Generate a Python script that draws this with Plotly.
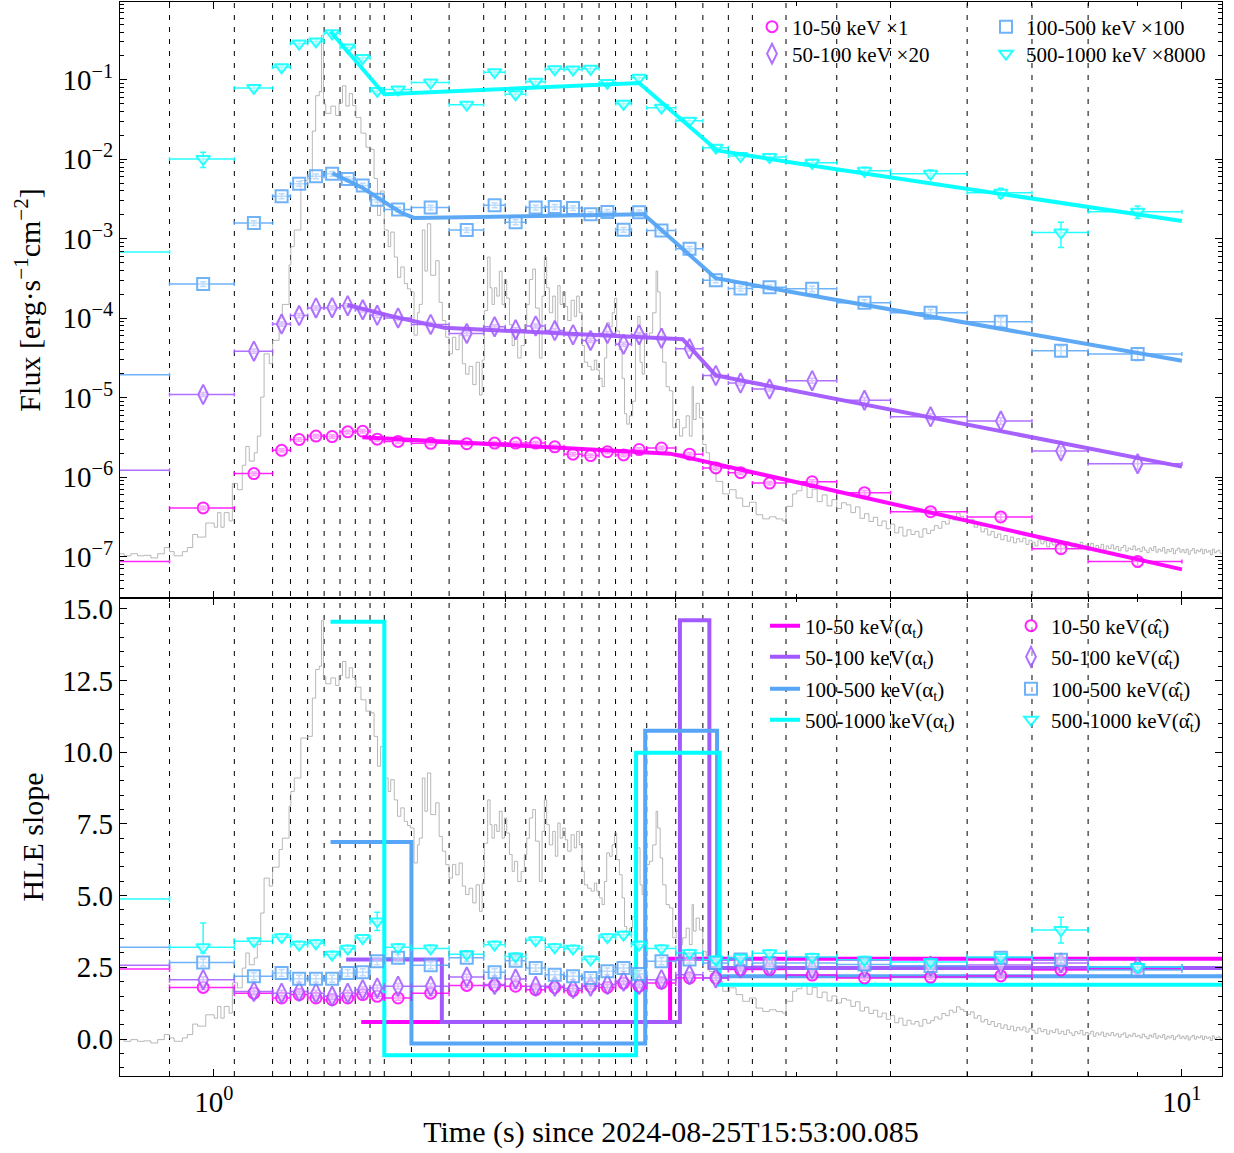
import numpy as np
import plotly.graph_objects as go

# ---------------- data ----------------
bin_edges = [0.6, 0.9, 1.05, 1.15, 1.2, 1.25, 1.3, 1.35, 1.4, 1.45, 1.5, 1.6, 1.75,
             1.9, 2.0, 2.1, 2.2, 2.3, 2.4, 2.5, 2.6, 2.7, 2.8, 3.0, 3.2, 3.4, 3.6,
             3.9, 4.4, 5.0, 6.0, 7.0, 8.0, 10.0]
dashed_edges = bin_edges[1:-1]

band_names = ["10-50 keV", "50-100 keV", "100-500 keV", "500-1000 keV"]
band_scales = ["1", "20", "100", "8000"]

flux_10_50 = [8.67e-8, 4.11e-7, 1.11e-6, 2.18e-6, 2.98e-6, 3.29e-6, 3.25e-6, 3.72e-6, 3.79e-6,
              3.01e-6, 2.82e-6, 2.67e-6, 2.64e-6, 2.69e-6, 2.69e-6, 2.69e-6, 2.41e-6, 1.95e-6,
              1.87e-6, 2.09e-6, 1.91e-6, 2.23e-6, 2.33e-6, 1.95e-6, 1.31e-6, 1.14e-6, 8.43e-7,
              8.77e-7, 6.38e-7, 3.68e-7, 3.16e-7, 1.26e-7, 8.71e-8]
flux_50_100 = [1.22e-6, 1.10e-5, 3.86e-5, 8.47e-5, 1.08e-4, 1.35e-4, 1.36e-4, 1.44e-4, 1.28e-4,
               1.09e-4, 1.01e-4, 8.38e-5, 6.43e-5, 7.83e-5, 7.18e-5, 8.02e-5, 7.01e-5, 6.22e-5,
               5.27e-5, 6.43e-5, 4.72e-5, 6.22e-5, 5.62e-5, 4.13e-5, 1.91e-5, 1.53e-5, 1.29e-5,
               1.64e-5, 9.3e-6, 5.75e-6, 5.1e-6, 2.14e-6, 1.48e-6]
flux_100_500 = [1.95e-5, 2.70e-4, 1.58e-3, 3.44e-3, 4.94e-3, 6.11e-3, 6.59e-3, 5.65e-3, 4.68e-3,
                3.11e-3, 2.33e-3, 2.47e-3, 1.29e-3, 2.64e-3, 1.62e-3, 2.47e-3, 2.52e-3, 2.44e-3,
                2.04e-3, 2.18e-3, 1.30e-3, 2.16e-3, 1.27e-3, 7.48e-4, 3.02e-4, 2.37e-4, 2.45e-4,
                2.35e-4, 1.57e-4, 1.17e-4, 9.04e-5, 3.89e-5, 3.55e-5]
flux_500_1000 = [6.84e-4, 1.01e-2, 7.93e-2, 0.144, 0.286, 0.305, 0.385, 0.256, 0.188,
                 7.26e-2, 7.59e-2, 9.25e-2, 4.88e-2, 0.125, 6.58e-2, 9.46e-2, 0.136, 0.135,
                 0.138, 9.16e-2, 4.99e-2, 0.106, 4.47e-2, 3.06e-2, 1.40e-2, 1.10e-2, 1.07e-2,
                 9.04e-3, 7.16e-3, 6.58e-3, 3.8e-3, 1.2e-3, 2.19e-3]
flux_relerr_10_50 = [0.08] + [0.05] * 26 + [0.06, 0.07, 0.08, 0.09, 0.12, 0.14]
flux_relerr_50_100 = [0.10] + [0.06] * 26 + [0.07, 0.08, 0.09, 0.10, 0.13, 0.15]
flux_relerr_100_500 = [0.12] + [0.07] * 26 + [0.08, 0.09, 0.10, 0.12, 0.15, 0.17]
flux_relerr_500_1000 = [0.15, 0.22] + [0.08] * 25 + [0.10, 0.11, 0.12, 0.14, 0.35, 0.18]

# broken power-law fits (break times, flux)
fit_t_10_50 = [1.424, 2.96, 10.0]
fit_f_10_50 = [3.18e-6, 1.98e-6, 6.92e-8]
fit_t_50_100 = [1.374, 1.548, 1.73, 3.05, 3.30, 10.0]
fit_f_50_100 = [1.47e-4, 1.02e-4, 7.59e-5, 5.45e-5, 1.91e-5, 1.36e-6]
fit_t_100_500 = [1.326, 1.424, 1.50, 1.56, 1.61, 2.78, 3.30, 4.03, 10.0]
fit_f_100_500 = [6.67e-3, 4.39e-3, 2.91e-3, 2.14e-3, 1.83e-3, 2.04e-3, 3.19e-4, 2.05e-4, 2.92e-5]
fit_t_500_1000 = [1.32, 1.50, 2.75, 3.31, 4.03, 10.0]
fit_f_500_1000 = [0.407, 0.0658, 0.0916, 0.01294, 8.79e-3, 1.68e-3]

# HLE slope alpha_t (piecewise constant)
step_t_10_50 = [1.42, 2.96, 11.0]
step_v_10_50 = [0.59, 2.80]
step_t_50_100 = [1.37, 1.72, 3.03, 3.25, 11.0]
step_v_50_100 = [2.77, 0.59, 14.6, 2.48]
step_t_100_500 = [1.32, 1.60, 2.79, 3.31, 11.0]
step_v_100_500 = [6.87, -0.16, 10.75, 2.19]
step_t_500_1000 = [1.32, 1.50, 2.73, 3.33, 11.0]
step_v_500_1000 = [14.55, -0.57, 9.98, 1.89]

# HLE slope estimates alpha_hat per bin
ahat_10_50 = [2.44, 1.80, 1.60, 1.43, 1.55, 1.43, 1.37, 1.43, 1.55, 1.49, 1.43, 1.60, 1.87,
              1.87, 1.84, 1.72, 1.80, 1.69, 1.84, 1.80, 1.95, 1.84, 1.95, 2.13, 2.13, 2.42,
              2.42, 2.23, 2.13, 2.16, 2.20, 2.41, 2.48]
ahat_50_100 = [2.57, 2.07, 1.66, 1.60, 1.66, 1.60, 1.49, 1.60, 1.72, 1.78, 1.84, 1.84, 2.16,
               1.90, 2.09, 1.84, 1.84, 1.76, 1.84, 1.90, 2.01, 1.90, 2.07, 2.24, 2.13, 2.48,
               2.54, 2.44, 2.50, 2.55, 2.58, 2.65, 2.51]
ahat_100_500 = [3.20, 2.67, 2.19, 2.30, 2.10, 2.10, 2.10, 2.30, 2.33, 2.71, 2.83, 2.57, 2.83,
                2.33, 2.73, 2.48, 2.24, 2.19, 2.13, 2.36, 2.48, 2.27, 2.71, 2.77, 2.65, 2.77,
                2.65, 2.65, 2.60, 2.55, 2.83, 2.76, 2.41]
ahat_500_1000 = [4.88, 3.20, 3.41, 3.55, 3.29, 3.34, 2.94, 3.15, 3.52, 4.10, 3.20, 3.16, 2.96,
                 3.29, 2.88, 3.44, 3.20, 3.15, 2.77, 3.55, 3.64, 3.29, 3.16, 3.00, 2.77, 2.83,
                 2.99, 2.86, 2.76, 2.69, 2.86, 3.80, 2.51]
ahat_err_10_50 = [0.08] * 33
ahat_err_50_100 = [0.10] * 33
ahat_err_100_500 = [0.12] * 33
ahat_err_500_1000_up = [0.15, 0.85] + [0.12] * 7 + [0.32] + [0.12] * 21 + [0.45, 0.15]
ahat_err_500_1000_dn = [0.15, 0.20] + [0.12] * 7 + [0.32] + [0.12] * 21 + [0.45, 0.15]

# light curve (relative count rate), step bins: left edges and values
lc_time = [0.780, 0.808, 0.821, 0.834, 0.847, 0.861, 0.875, 0.889, 0.900, 0.910, 0.928, 0.939,
           0.951, 0.962, 0.981, 1.001, 1.009, 1.017, 1.025, 1.037, 1.045, 1.058, 1.070, 1.079,
           1.088, 1.101, 1.109, 1.118, 1.127, 1.141, 1.150, 1.168, 1.177, 1.196, 1.201, 1.211,
           1.230, 1.250, 1.264, 1.274, 1.285, 1.292, 1.298, 1.305, 1.321, 1.336, 1.347, 1.358,
           1.369, 1.380, 1.391, 1.402, 1.419, 1.436, 1.453, 1.464, 1.476, 1.487, 1.500, 1.514,
           1.523, 1.536, 1.548, 1.560, 1.573, 1.585, 1.597, 1.610, 1.623, 1.630, 1.642, 1.652,
           1.662, 1.675, 1.695, 1.709, 1.722, 1.736, 1.750, 1.764, 1.778, 1.792, 1.806, 1.820,
           1.835, 1.851, 1.866, 1.881, 1.893, 1.903, 1.918, 1.929, 1.938, 1.949, 1.960, 1.972,
           1.985, 1.996, 2.007, 2.020, 2.033, 2.044, 2.060, 2.077, 2.093, 2.105, 2.118, 2.135,
           2.149, 2.169, 2.183, 2.195, 2.207, 2.221, 2.239, 2.253, 2.266, 2.279, 2.293, 2.307,
           2.320, 2.339, 2.357, 2.370, 2.385, 2.401, 2.414, 2.433, 2.453, 2.472, 2.486, 2.502,
           2.518, 2.532, 2.546, 2.563, 2.579, 2.594, 2.607, 2.624, 2.641, 2.656, 2.670, 2.687,
           2.708, 2.726, 2.741, 2.756, 2.770, 2.785, 2.796, 2.818, 2.840, 2.863, 2.874, 2.891,
           2.908, 2.932, 2.955, 2.979, 3.003, 3.027, 3.050, 3.075, 3.099, 3.119, 3.129, 3.149,
           3.174, 3.199, 3.225, 3.250, 3.302, 3.355, 3.409, 3.463, 3.518, 3.575, 3.632, 3.690,
           3.749, 3.808, 3.869, 3.900, 3.962]
lc_rate = [0.004, 0.000, 0.004, 0.000, 0.001, -0.004, 0.004, 0.016, 0.008, 0.000, 0.008, 0.016,
           0.041, 0.036, 0.063, 0.055, 0.083, 0.055, 0.083, 0.067, 0.139, 0.127, 0.174, 0.210,
           0.182, 0.198, 0.230, 0.305, 0.388, 0.369, 0.414, 0.456, 0.483, 0.559, 0.594, 0.626,
           0.721, 0.725, 0.816, 0.884, 0.892, 1.000, 0.868, 0.850, 0.864, 0.846, 0.870, 0.903,
           0.864, 0.888, 0.865, 0.842, 0.812, 0.785, 0.781, 0.725, 0.654, 0.701, 0.626, 0.594,
           0.622, 0.574, 0.535, 0.555, 0.523, 0.513, 0.507, 0.424, 0.467, 0.483, 0.626, 0.547,
           0.638, 0.539, 0.567, 0.487, 0.452, 0.420, 0.388, 0.420, 0.396, 0.424, 0.369, 0.349,
           0.364, 0.329, 0.372, 0.309, 0.376, 0.471, 0.574, 0.515, 0.483, 0.515, 0.499, 0.547,
           0.483, 0.531, 0.495, 0.444, 0.404, 0.428, 0.380, 0.404, 0.444, 0.483, 0.531, 0.551,
           0.476, 0.380, 0.499, 0.574, 0.515, 0.467, 0.499, 0.440, 0.519, 0.483, 0.507, 0.479,
           0.452, 0.491, 0.460, 0.499, 0.467, 0.404, 0.372, 0.364, 0.357, 0.376, 0.357, 0.341,
           0.325, 0.380, 0.448, 0.440, 0.467, 0.495, 0.432, 0.396, 0.341, 0.273, 0.253, 0.269,
           0.297, 0.420, 0.460, 0.372, 0.349, 0.428, 0.420, 0.428, 0.467, 0.547, 0.507, 0.436,
           0.372, 0.325, 0.317, 0.246, 0.262, 0.230, 0.246, 0.269, 0.230, 0.325, 0.262, 0.293,
           0.265, 0.214, 0.198, 0.166, 0.143, 0.119, 0.127, 0.111, 0.095, 0.103, 0.079, 0.071,
           0.075, 0.071, 0.067, 0.095, 0.119]
lc_tail_start, lc_tail_width = 4.0, 0.05
lc_rate_tail = [0.125, 0.138, 0.112, 0.128, 0.104, 0.117, 0.096, 0.108, 0.091, 0.102,
                0.098, 0.083, 0.094, 0.072, 0.081, 0.066, 0.074, 0.058, 0.067, 0.052,
                0.061, 0.044, 0.055, 0.038, 0.050, 0.041, 0.047, 0.036, 0.052, 0.043,
                0.049, 0.058, 0.053, 0.066, 0.061, 0.074, 0.069, 0.082, 0.076, 0.071,
                0.064, 0.070, 0.055, 0.061, 0.046, 0.052, 0.040, 0.047, 0.035, 0.042,
                0.031, 0.039, 0.028, 0.036, 0.025, 0.033, 0.027, 0.034, 0.022, 0.030,
                0.026, 0.019, 0.031, 0.023, 0.028, 0.017, 0.025, 0.021, 0.029, 0.018,
                0.024, 0.016, 0.027, 0.020, 0.014, 0.023, 0.018, 0.026, 0.015, 0.021,
                0.017, 0.024, 0.012, 0.020, 0.015, 0.022, 0.011, 0.019, 0.014, 0.021,
                0.013, 0.018, 0.010, 0.016, 0.020, 0.009, 0.015, 0.012, 0.019, 0.011,
                0.014, 0.008, 0.017, 0.011, 0.006, 0.015, 0.010, 0.018, 0.007, 0.013,
                0.009, 0.016, 0.005, 0.012, 0.008, 0.014, 0.004, 0.011, 0.015, 0.007,
                0.012, 0.006, 0.013, 0.003, 0.010, 0.014, 0.005, 0.011, 0.008, 0.013,
                0.004, 0.012, 0.007, 0.010, 0.002, 0.013, 0.006, 0.009, 0.011, 0.005]

# ---------------- styling ----------------
colors = ["#FF00FF", "#A259FF", "#56A5F6", "#00FFFF"]
fills = ["rgba(255,255,255,0.55)"] * 4
symbols = ["circle", "diamond-tall", "square", "triangle-down"]
msizes = [11, 14, 12, 12]
FONT = "Liberation Serif"

flux_all = [flux_10_50, flux_50_100, flux_100_500, flux_500_1000]
relerr_all = [flux_relerr_10_50, flux_relerr_50_100, flux_relerr_100_500, flux_relerr_500_1000]
fit_t_all = [fit_t_10_50, fit_t_50_100, fit_t_100_500, fit_t_500_1000]
fit_f_all = [fit_f_10_50, fit_f_50_100, fit_f_100_500, fit_f_500_1000]
step_t_all = [step_t_10_50, step_t_50_100, step_t_100_500, step_t_500_1000]
step_v_all = [step_v_10_50, step_v_50_100, step_v_100_500, step_v_500_1000]
ahat_all = [ahat_10_50, ahat_50_100, ahat_100_500, ahat_500_1000]
ahat_up_all = [ahat_err_10_50, ahat_err_50_100, ahat_err_100_500, ahat_err_500_1000_up]
ahat_dn_all = [ahat_err_10_50, ahat_err_50_100, ahat_err_100_500, ahat_err_500_1000_dn]

edges = np.array(bin_edges)
t_lo, t_hi = edges[:-1], edges[1:]
t_mid = (t_lo + t_hi) / 2.0

# light curve step arrays
tail_t = np.round(lc_tail_start + lc_tail_width * np.arange(len(lc_rate_tail)), 4)
lc_x = list(lc_time) + list(tail_t) + [float(tail_t[-1] + lc_tail_width)]
lc_y = list(lc_rate) + list(lc_rate_tail) + [lc_rate_tail[-1]]

# legend placement (one legend per entry): (left px of legend, row centre px)
W, H = 1234, 1153
L, R, T, B = 120, 12, 2, 77
PW, PH = W - L - R, H - T - B
upper_leg_pos = [(752, 27), (752, 54), (986, 27), (986, 54)]
step_leg_pos = [(765, 626), (765, 657), (765, 689), (765, 720)]
pt_leg_pos = [(1011, 626), (1011, 657), (1011, 689), (1011, 720)]

fig = go.Figure()

# gray light curves (base axes, drawn underneath)
for xa, ya in (("x", "y"), ("x2", "y2")):
    fig.add_trace(go.Scatter(x=lc_x, y=lc_y, mode="lines",
                             line=dict(shape="hv", color="rgba(160,160,160,0.75)", width=1),
                             xaxis=xa, yaxis=ya, showlegend=False, hoverinfo="skip"))

legends = {}
leg_count = [0]


def new_legend(pos):
    leg_count[0] += 1
    key = "legend" if leg_count[0] == 1 else f"legend{leg_count[0]}"
    legends[key] = dict(x=(pos[0] - L) / PW, y=(T + PH - pos[1]) / PH, xanchor="left",
                        yanchor="middle", bgcolor="rgba(0,0,0,0)", font=dict(size=21),
                        tracegroupgap=0)
    return key


# upper panel: flux points & fits
for i in range(4):
    f = np.array(flux_all[i])
    e = f * np.array(relerr_all[i])
    fig.add_trace(go.Scatter(
        x=t_mid, y=f, mode="markers", xaxis="x", yaxis="y3",
        name=f"{band_names[i]} ×{band_scales[i]}", legend=new_legend(upper_leg_pos[i]),
        marker=dict(symbol=symbols[i], size=msizes[i], color=fills[i],
                    line=dict(color=colors[i], width=2)),
        error_x=dict(type="data", symmetric=False, array=t_hi - t_mid, arrayminus=t_mid - t_lo,
                     color=colors[i], thickness=1.5, width=2),
        error_y=dict(type="data", array=e, color=colors[i], thickness=1.5, width=3),
        opacity=0.85))
for i in range(4):
    fig.add_trace(go.Scatter(x=fit_t_all[i], y=fit_f_all[i], mode="lines", xaxis="x", yaxis="y3",
                             line=dict(color=colors[i], width=4), showlegend=False, opacity=0.95))

# lower panel: alpha_t steps
for i in range(4):
    st = step_t_all[i]
    sv = list(step_v_all[i]) + [step_v_all[i][-1]]
    fig.add_trace(go.Scatter(x=st, y=sv, mode="lines", xaxis="x2", yaxis="y4",
                             line=dict(shape="hv", color=colors[i], width=4),
                             name=f"{band_names[i]}(α<sub>t</sub>)",
                             legend=new_legend(step_leg_pos[i])))
# lower panel: alpha_hat points
for i in range(4):
    fig.add_trace(go.Scatter(
        x=t_mid, y=ahat_all[i], mode="markers", xaxis="x2", yaxis="y4",
        name=f"{band_names[i]}(\u03b1\u0302<sub>t</sub>)", legend=new_legend(pt_leg_pos[i]),
        marker=dict(symbol=symbols[i], size=msizes[i], color=fills[i],
                    line=dict(color=colors[i], width=2)),
        error_x=dict(type="data", symmetric=False, array=t_hi - t_mid, arrayminus=t_mid - t_lo,
                     color=colors[i], thickness=1.5, width=3),
        error_y=dict(type="data", symmetric=False, array=ahat_up_all[i], arrayminus=ahat_dn_all[i],
                     color=colors[i], thickness=1.5, width=3),
        opacity=0.85))

# dashed bin-edge lines
shapes = []
for t in dashed_edges:
    shapes.append(dict(type="line", xref="x", yref="paper", x0=t, x1=t, y0=0, y1=1,
                       line=dict(color="black", width=1, dash="5px,7px"), layer="below"))

xr = [np.log10(0.8), np.log10(11.0)]
x_minor = [0.8, 0.9, 2, 3, 4, 5, 6, 7, 8, 9]
y_major = [1e-7, 1e-6, 1e-5, 1e-4, 1e-3, 1e-2, 1e-1]
y_major_txt = ["10<sup>−7</sup>", "10<sup>−6</sup>", "10<sup>−5</sup>", "10<sup>−4</sup>",
               "10<sup>−3</sup>", "10<sup>−2</sup>", "10<sup>−1</sup>"]
y_minor = [m * 10.0 ** p for p in range(-8, 0) for m in range(2, 10)]

split = 478 / PH
axis_common = dict(showline=True, linecolor="black", linewidth=1.3, mirror="ticks", ticks="inside",
                   ticklen=7, tickwidth=1.2, tickcolor="black", showgrid=False, zeroline=False,
                   automargin=False, tickfont=dict(size=29))

fig.update_layout(
    width=W, height=H,
    margin=dict(l=L, r=R, t=T, b=B),
    plot_bgcolor="white", paper_bgcolor="white",
    font=dict(family=FONT, size=28, color="black"),
    shapes=shapes,
    xaxis=dict(type="log", range=xr, domain=[0, 1], anchor="y", showticklabels=False,
               tickvals=[1, 10], minor=dict(tickvals=x_minor, ticks="inside", ticklen=4, tickcolor="black"),
               **axis_common),
    yaxis=dict(domain=[split, 1], range=[-0.081, 1.064], visible=False, anchor="x"),
    yaxis3=dict(overlaying="y", anchor="x", side="left", type="log", range=[-7.52, -0.02],
                tickvals=y_major, ticktext=y_major_txt,
                minor=dict(tickvals=y_minor, ticks="inside", ticklen=4, tickcolor="black"),
                title=dict(text="Flux [erg·s<sup>−1</sup>cm<sup>−2</sup>]", standoff=12,
                           font=dict(size=30)),
                **axis_common),
    xaxis2=dict(type="log", range=xr, domain=[0, 1], anchor="y2",
                tickvals=[1, 10], ticktext=["10<sup>0</sup>", "10<sup>1</sup>"],
                minor=dict(tickvals=x_minor, ticks="inside", ticklen=4, tickcolor="black"),
                title=dict(text="Time (s) since 2024-08-25T15:53:00.085", standoff=4,
                           font=dict(size=30)),
                **axis_common),
    yaxis2=dict(domain=[0, split], range=[-0.0825, 1.054], visible=False, anchor="x2"),
    yaxis4=dict(overlaying="y2", anchor="x2", side="left", range=[-1.29, 15.38],
                tick0=0, dtick=2.5, tickformat=".1f",
                minor=dict(dtick=0.5, ticks="inside", ticklen=4, tickcolor="black"),
                title=dict(text="HLE slope", standoff=9, font=dict(size=30)),
                **axis_common),
    **legends,
)

fig.write_html("out.html", config={"displayModeBar": False},
               post_script="document.body.style.margin='0px';")
